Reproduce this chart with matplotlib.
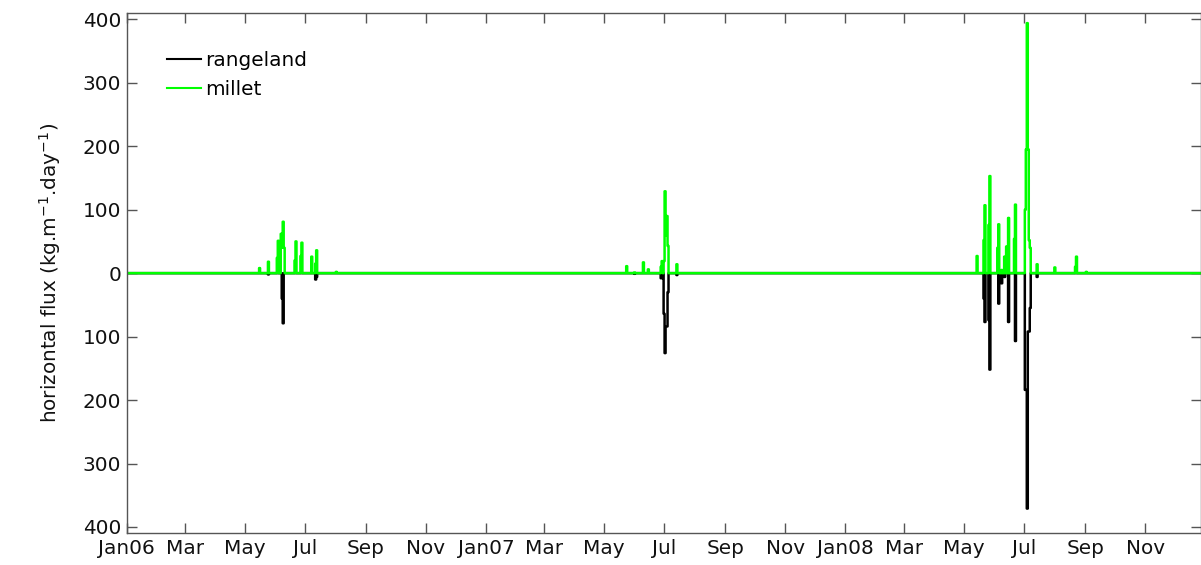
import matplotlib
matplotlib.use("Agg")
import matplotlib.pyplot as plt
import numpy as np
import pandas as pd

# ---- data: flux events (days since 2006-01-01) ----
event_day = [135, 144, 153, 154, 157, 158, 159, 160, 171, 172, 177, 178, 188, 192, 193, 213,
             508, 516, 525, 530, 543, 544, 546, 547, 548, 549, 550, 559,
             864, 871, 872, 876, 877, 885, 886, 889, 892, 894, 896, 902, 903,
             913, 914, 915, 916, 917, 918, 925, 943, 964, 965, 975]
millet = [8, 18, 24, 51, 62, 40, 81, 40, 20, 50, 27, 48, 26, 15, 36, 2,
          11, 1, 17, 6, 10, 19, 19, 129, 60, 90, 43, 14,
          27, 52, 107, 76, 153, 40, 77, 5, 26, 42, 87, 54, 108,
          100, 195, 394, 195, 52, 40, 14, 9, 10, 26, 2]
rangeland = [0, 2, 0, 0, 0, 40, 79, 0, 0, 0, 0, 0, 0, 10, 6, 0,
             0, 1, 0, 0, 8, 8, 64, 126, 84, 84, 30, 3,
             0, 40, 77, 74, 152, 0, 48, 16, 6, 0, 77, 0, 107,
             184, 184, 371, 92, 92, 55, 6, 0, 0, 0, 0]

yticks = [400, 300, 200, 100, 0, -100, -200, -300, -400]
yticklabels = ['400', '300', '200', '100', '0', '100', '200', '300', '400']
month_labels = ['Jan06', 'Mar', 'May', 'Jul', 'Sep', 'Nov',
                'Jan07', 'Mar', 'May', 'Jul', 'Sep', 'Nov',
                'Jan08', 'Mar', 'May', 'Jul', 'Sep', 'Nov']

# ---- build daily series ----
start = pd.Timestamp('2006-01-01')
days = pd.date_range(start, '2008-12-31', freq='D')
mil = np.zeros(len(days))
ran = np.zeros(len(days))
for d, m, r in zip(event_day, millet, rangeland):
    mil[d] = m
    ran[d] = -r

plt.rcParams['font.family'] = ['DejaVu Sans']
plt.rcParams['mathtext.fontset'] = 'dejavusans'

FS = 14.4
fig = plt.figure(figsize=(12.01, 5.65), dpi=100)
L, R, T, B = 126.7, 1201.0, 13.3, 533.0
ax = fig.add_axes([L / 1201, 1 - B / 565, (R - L) / 1201, (B - T) / 565])

ax.plot(days, ran, color='black', lw=1.8, label='rangeland', drawstyle='steps-mid')
ax.plot(days, mil, color='#00ff00', lw=1.8, label='millet', drawstyle='steps-mid')

ax.set_xlim(start, start + pd.Timedelta(days=1091.5))
ax.set_ylim(-409.5, 409.5)
ax.set_yticks(yticks)
ax.set_yticklabels(yticklabels)
tick_dates = pd.date_range('2006-01-01', '2008-11-01', freq='2MS')
ax.set_xticks(tick_dates)
ax.set_xticklabels(month_labels)

axcol = '#555555'
for s in ax.spines.values():
    s.set_color(axcol)
    s.set_linewidth(1.0)
ax.tick_params(direction='in', length=7, width=1.0, color=axcol,
               top=True, right=True, labelsize=FS, labelcolor='#111111', pad=4)
ax.set_ylabel('horizontal flux (kg.m$^{-1}$.day$^{-1}$)', fontsize=FS,
              color='#111111', labelpad=14)

leg = ax.legend(loc='upper left', bbox_to_anchor=(0.0375, 0.927), frameon=False,
                fontsize=FS, handlelength=1.7, handletextpad=0.2,
                labelspacing=0.5, borderpad=0, borderaxespad=0)
for line in leg.get_lines():
    line.set_linewidth(1.5)

fig.savefig('out.png', dpi=100)
